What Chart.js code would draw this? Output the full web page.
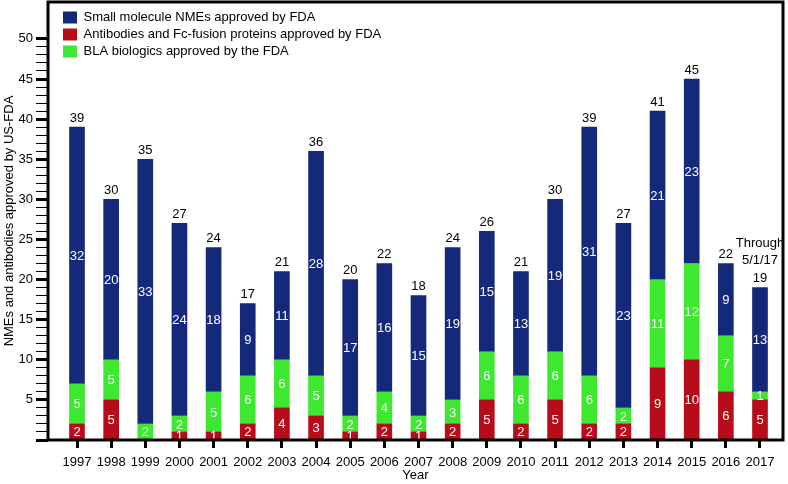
<!DOCTYPE html>
<html>
<head>
<meta charset="utf-8">
<script src="https://cdn.jsdelivr.net/npm/chart.js@4"></script>
<style>
    html, body { margin: 0; padding: 0; background: #fff; }
    #wrap { width: 788px; height: 484px; }
</style>
</head>
<body>
<div id="wrap"><canvas id="fdaChart"></canvas></div>
<script>
// Data
const years = [1997, 1998, 1999, 2000, 2001, 2002, 2003, 2004, 2005, 2006, 2007,
               2008, 2009, 2010, 2011, 2012, 2013, 2014, 2015, 2016, 2017];
const antibodies = [2, 5, 0, 1, 1, 2, 4, 3, 1, 2, 1, 2, 5, 2, 5, 2, 2, 9, 10, 6, 5];
const blaBiologics = [5, 5, 2, 2, 5, 6, 6, 5, 2, 4, 2, 3, 6, 6, 6, 6, 2, 11, 12, 7, 1];
const smallMolecules = [32, 20, 33, 24, 18, 9, 11, 28, 17, 16, 15, 19, 15, 13, 19, 31, 23, 21, 23, 9, 13];
const yTickLabels = [5, 10, 15, 20, 25, 30, 35, 40, 45, 50];
const noteLines = ['Through', '5/1/17'];

const FONT = "'Liberation Sans', Arial, sans-serif";
const totals = years.map((y, i) => antibodies[i] + blaBiologics[i] + smallMolecules[i]);
const legendOrder = [2, 0, 1];

function points(values) {
    return years.map((y, i) => ({ x: y, y: values[i] }));
}

// White numbers inside segments, totals above bars, note above 2017
const labelPlugin = {
    id: 'labels',
    afterDatasetsDraw(chart) {
        const ctx = chart.ctx;
        const xs = chart.scales.x, ys = chart.scales.y;
        ctx.save();
        ctx.font = '13px ' + FONT;
        ctx.textAlign = 'center';
        ctx.textBaseline = 'middle';
        chart.data.datasets.forEach((ds, di) => {
            chart.getDatasetMeta(di).data.forEach((bar, i) => {
                const v = ds.data[i].y;
                if (!v) return;
                ctx.fillStyle = '#ffffff';
                ctx.fillText(String(v), bar.x, (bar.y + bar.base) / 2 + 1);
            });
        });
        ctx.fillStyle = '#000000';
        totals.forEach((t, i) => {
            ctx.fillText(String(t), xs.getPixelForValue(years[i]), ys.getPixelForValue(t) - 9);
        });
        const last = years.length - 1;
        const nx = xs.getPixelForValue(years[last]);
        const ny = ys.getPixelForValue(totals[last]);
        ctx.fillText(noteLines[0], nx, ny - 44);
        ctx.fillText(noteLines[1], nx, ny - 27);
        ctx.restore();
    },
    afterDraw(chart) {
        const a = chart.chartArea;
        const ctx = chart.ctx;
        ctx.save();
        ctx.strokeStyle = '#000';
        ctx.lineWidth = 3;
        ctx.strokeRect(a.left, a.top, a.right - a.left, a.bottom - a.top);
        ctx.restore();
    },
    afterLayout(chart) {
        // place the in-plot legend in the top-left corner of the frame
        const lg = chart.legend;
        if (lg) {
            const h = lg.bottom - lg.top;
            lg.left = chart.chartArea.left + 11;
            lg.right = lg.left + lg.width;
            lg.top = 7;
            lg.bottom = lg.top + h;
        }
    }
};

new Chart(document.getElementById('fdaChart'), {
    type: 'bar',
    data: {
        datasets: [
            {
                label: 'Antibodies and Fc-fusion proteins approved by FDA',
                data: points(antibodies),
                backgroundColor: '#b70d1a'
            },
            {
                label: 'BLA biologics approved by the FDA',
                data: points(blaBiologics),
                backgroundColor: '#3fe830'
            },
            {
                label: 'Small molecule NMEs approved by FDA',
                data: points(smallMolecules),
                backgroundColor: '#15297a'
            }
        ]
    },
    options: {
        responsive: true,
        maintainAspectRatio: false,
        animation: false,
        layout: { padding: { top: 2, right: 5, left: 0, bottom: 0 } },
        datasets: {
            bar: { barThickness: 15, borderWidth: 0 }
        },
        plugins: {
            tooltip: { enabled: false },
            legend: {
                position: 'chartArea',
                align: 'start',
                labels: {
                    boxWidth: 14,
                    boxHeight: 12,
                    padding: 4,
                    color: '#000',
                    font: { family: FONT, size: 13 },
                    sort: (a, b) => legendOrder.indexOf(a.datasetIndex) - legendOrder.indexOf(b.datasetIndex)
                }
            }
        },
        scales: {
            x: {
                type: 'linear',
                stacked: true,
                offset: false,
                min: 1996.1508,
                max: 2017.6735,
                afterFit: scale => { scale.height = 44; },
                border: { display: false },
                grid: {
                    offset: false,
                    drawOnChartArea: false,
                    drawTicks: true,
                    tickLength: 8,
                    tickWidth: 3,
                    tickColor: '#000'
                },
                ticks: {
                    stepSize: 1,
                    includeBounds: false,
                    autoSkip: false,
                    maxRotation: 0,
                    padding: 7,
                    color: '#000',
                    font: { family: FONT, size: 13 },
                    callback: v => String(v)
                },
                title: {
                    display: true,
                    text: 'Year',
                    color: '#000',
                    font: { family: FONT, size: 13 },
                    padding: { top: 0, bottom: 1 }
                }
            },
            y: {
                stacked: true,
                min: 0,
                max: 54.6,
                afterFit: scale => {
                    scale.width = 48;
                    scale.paddingTop = 0;
                    scale.paddingBottom = 0;
                },
                afterBuildTicks: scale => {
                    scale.ticks = scale.ticks.filter(t => t.value <= yTickLabels[yTickLabels.length - 1]);
                },
                border: { display: false },
                grid: {
                    drawOnChartArea: false,
                    tickLength: 12,
                    tickColor: '#000',
                    tickWidth: c => (c.tick && c.tick.value % 5 === 0 ? 3 : 1)
                },
                ticks: {
                    stepSize: 1,
                    autoSkip: false,
                    padding: 3,
                    color: '#000',
                    font: { family: FONT, size: 13 },
                    callback: v => (yTickLabels.includes(v) ? String(v) : '')
                },
                title: {
                    display: true,
                    text: 'NMEs and antibodies approved by US-FDA',
                    color: '#000',
                    font: { family: FONT, size: 13 },
                    padding: { top: 2, bottom: 2 }
                }
            }
        }
    },
    plugins: [labelPlugin]
});
</script>
</body>
</html>
